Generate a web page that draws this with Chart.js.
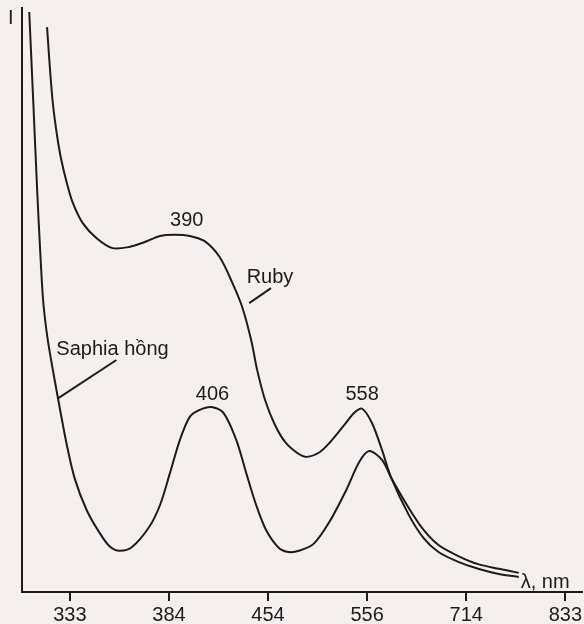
<!DOCTYPE html>
<html>
<head>
<meta charset="utf-8">
<script src="https://cdn.jsdelivr.net/npm/chart.js@4.4.1/dist/chart.umd.min.js"></script>
<style>
  html, body { margin: 0; padding: 0; background: #f6eff0; }
  #wrap { width: 584px; height: 624px; }
</style>
</head>
<body>
<div id="wrap"><canvas id="spectrum" width="584" height="624"></canvas></div>
<script>
// tick labels of the wavelength axis (they sit at equal spacing, so x is the tick position)
const tickLabels = ['333', '384', '454', '556', '714', '833'];

// Saphia hồng (lower curve): x = position along the axis in tick units, y = relative intensity
const saphiaX = [-0.41, -0.37, -0.33, -0.30, -0.27, -0.23, -0.18, -0.12, -0.03, 0.05, 0.17, 0.30, 0.40, 0.50, 0.63, 0.80, 0.91,
  1.01, 1.11, 1.21, 1.31, 1.43, 1.55, 1.68, 1.78, 1.88, 1.98, 2.11, 2.21, 2.31, 2.46, 2.62, 2.79, 2.92, 3.02, 3.15, 3.24,
  3.42, 3.57, 3.72, 3.92, 4.12, 4.33, 4.53];
const saphiaY = [100.0, 84.8, 69.3, 59.0, 50.3, 44.3, 39.1, 33.4, 25.3, 19.5, 14.1, 10.2, 7.9, 7.1, 7.8, 11.2, 15.0,
  20.5, 26.2, 30.2, 31.4, 31.9, 30.9, 26.2, 20.5, 15.0, 10.7, 7.6, 6.9, 7.1, 8.3, 12.1, 17.6, 22.4, 24.3, 22.8, 19.8,
  14.5, 10.7, 8.1, 6.2, 4.8, 4.0, 3.3];

// Ruby (upper curve)
const rubyX = [-0.23, -0.20, -0.17, -0.13, -0.09, -0.03, 0.03, 0.13, 0.27, 0.43, 0.60, 0.75, 0.91, 1.06, 1.21, 1.36, 1.51,
  1.64, 1.74, 1.83, 1.89, 1.97, 2.07, 2.18, 2.31, 2.39, 2.52, 2.62, 2.77, 2.87, 2.95, 3.05, 3.15, 3.24,
  3.42, 3.57, 3.72, 3.92, 4.12, 4.33, 4.53];
const rubyY = [97.4, 90.0, 84.0, 78.8, 74.8, 70.5, 67.1, 63.6, 61.0, 59.3, 59.5, 60.3, 61.4, 61.6, 61.4, 60.5, 57.8,
  53.3, 49.1, 43.4, 38.3, 33.1, 28.8, 25.7, 23.8, 23.3, 24.1, 25.7, 28.8, 30.9, 31.6, 29.1, 24.5, 19.8,
  13.3, 9.3, 6.9, 5.2, 4.0, 3.1, 2.6];

const ink = '#1c1c1c';
const font = '"Liberation Sans", Arial, sans-serif';

const toPoints = (xs, ys) => xs.map((x, i) => ({ x: x, y: ys[i] }));

// text labels and leader lines placed in data coordinates
const notes = [
  { text: '390', x: 1.18, y: 64.1 },
  { text: '406', x: 1.44, y: 34.0 },
  { text: '558', x: 2.95, y: 34.0 },
  { text: 'Ruby', x: 2.02, y: 54.3 },
  { text: 'Saphia hồng', x: 0.43, y: 41.9 },
];
const leaders = [
  [1.81, 49.8, 2.03, 52.4],
  [-0.12, 33.4, 0.47, 40.0],
];

const annotate = {
  id: 'annotate',
  afterDatasetsDraw(chart) {
    const { ctx, scales: { x, y }, chartArea } = chart;
    ctx.save();
    ctx.fillStyle = ink;
    ctx.strokeStyle = ink;
    ctx.lineWidth = 2;
    ctx.font = '20px ' + font;
    ctx.textAlign = 'center';
    ctx.textBaseline = 'middle';
    notes.forEach(n => ctx.fillText(n.text, x.getPixelForValue(n.x), y.getPixelForValue(n.y)));
    leaders.forEach(l => {
      ctx.beginPath();
      ctx.moveTo(x.getPixelForValue(l[0]), y.getPixelForValue(l[1]));
      ctx.lineTo(x.getPixelForValue(l[2]), y.getPixelForValue(l[3]));
      ctx.stroke();
    });
    ctx.textAlign = 'left';
    ctx.fillText('λ, nm', x.getPixelForValue(4.55), y.getPixelForValue(1.7));
    ctx.fillText('I', chartArea.left - 14, chartArea.top + 10);
    ctx.restore();
  }
};

new Chart(document.getElementById('spectrum'), {
  type: 'line',
  data: {
    datasets: [
      { label: 'Saphia hồng', data: toPoints(saphiaX, saphiaY) },
      { label: 'Ruby', data: toPoints(rubyX, rubyY) },
    ].map(d => Object.assign(d, {
      borderColor: ink,
      borderWidth: 2,
      pointRadius: 0,
      fill: false,
      tension: 0.3,
    })),
  },
  options: {
    responsive: false,
    animation: false,
    layout: { padding: { top: 8, right: 0, left: 0, bottom: 0 } },
    plugins: { legend: { display: false }, tooltip: { enabled: false } },
    scales: {
      x: {
        type: 'linear',
        min: -0.483,
        max: 5.171,
        afterFit: s => { s.height = 32; },
        afterBuildTicks: s => { s.ticks = tickLabels.map((_, i) => ({ value: i })); },
        ticks: {
          color: ink,
          font: { family: font, size: 20 },
          padding: 2,
          maxRotation: 0,
          callback: v => tickLabels[v],
        },
        grid: { drawOnChartArea: false, tickLength: 9, color: ink, lineWidth: 2 },
        border: { color: ink, width: 2 },
      },
      y: {
        min: 0,
        max: 100.7,
        afterFit: s => { s.width = 22; },
        ticks: { display: false },
        grid: { display: false },
        border: { color: ink, width: 2 },
      },
    },
  },
  plugins: [annotate],
});
</script>
</body>
</html>
